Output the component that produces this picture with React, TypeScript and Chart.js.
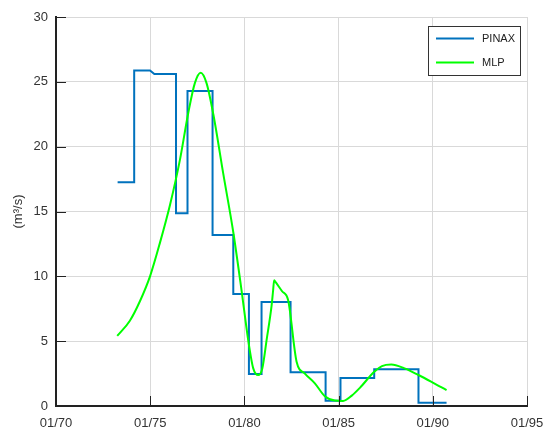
import React, { useEffect, useRef } from "react";
import { Chart, registerables } from "chart.js";

Chart.register(...registerables);

// PINAX series (step-like vertices): decimal years and flow (m3/s)
const pinaxYears = [
  1973.27, 1974.15, 1974.15, 1974.99, 1975.22, 1976.37, 1976.37, 1976.98, 1976.98,
  1978.31, 1978.31, 1979.41, 1979.41, 1980.24, 1980.24, 1980.91, 1980.91, 1982.45,
  1982.45, 1984.31, 1984.31, 1985.1, 1985.1, 1986.89, 1986.89, 1989.24, 1989.24, 1990.73,
];
const pinaxFlow = [
  17.25, 17.25, 25.88, 25.88, 25.6, 25.6, 14.86, 14.86, 24.3,
  24.3, 13.18, 13.18, 8.63, 8.63, 2.47, 2.47, 8.02, 8.02,
  2.6, 2.6, 0.41, 0.41, 2.16, 2.16, 2.83, 2.83, 0.26, 0.26,
];

// MLP series
const mlpYears = [
  1973.25, 1973.93, 1974.46, 1974.99, 1975.52, 1976.05, 1976.58, 1977.02, 1977.37,
  1977.68, 1977.99, 1978.35, 1978.88, 1979.41, 1979.85, 1980.2, 1980.47, 1980.73, 1980.95,
  1981.18, 1981.44, 1981.52, 1981.58, 1981.66, 1982.0, 1982.32, 1982.77, 1983.21, 1983.74,
  1984.27, 1984.8, 1985.24, 1985.7, 1986.13, 1986.89, 1987.3, 1987.8, 1988.5, 1989.24,
  1989.95, 1990.73,
];
const mlpFlow = [
  5.4, 6.6, 8.1, 10.0, 12.6, 15.5, 19.0, 22.6, 24.9,
  25.7, 24.9, 22.5, 17.9, 13.4, 8.9, 5.1, 2.9, 2.39, 2.9,
  5.1, 7.7, 8.85, 9.7, 9.55, 8.85, 8.17, 3.42, 2.5, 1.75,
  0.75, 0.42, 0.39, 0.8, 1.4, 2.64, 3.08, 3.2, 2.9, 2.39,
  1.85, 1.23,
];

const xTickValues = [1970, 1975, 1980, 1985, 1990, 1995];
const yTickValues = [0, 5, 10, 15, 20, 25, 30];
const seriesNames = ["PINAX", "MLP"];
const seriesColors = ["#0072BD", "#00ff00"];
const yAxisTitle = "(m\u00B3/s)";

const FONT = "'Liberation Sans', Arial, sans-serif";

const decorPlugin = {
  id: "decor",
  afterDraw(chart: any) {
    const ctx = chart.ctx;
    const area = chart.chartArea;
    const xs = chart.scales.x;
    const ys = chart.scales.y;
    ctx.save();
    // inward tick marks
    ctx.strokeStyle = "#222";
    ctx.lineWidth = 1;
    ctx.beginPath();
    yTickValues.forEach((v) => {
      if (v === 0) return;
      const py = Math.round(ys.getPixelForValue(v)) + 0.5;
      ctx.moveTo(area.left, py);
      ctx.lineTo(area.left + 10, py);
    });
    xTickValues.forEach((v) => {
      if (v === 1970) return;
      const px = Math.round(xs.getPixelForValue(v)) + 0.5;
      ctx.moveTo(px, area.bottom);
      ctx.lineTo(px, area.bottom - 10);
    });
    ctx.stroke();

    // y-axis title
    ctx.fillStyle = "#333";
    ctx.font = "13px " + FONT;
    ctx.textAlign = "center";
    ctx.textBaseline = "middle";
    ctx.translate(18, (area.top + area.bottom) / 2);
    ctx.rotate(-Math.PI / 2);
    ctx.fillText(yAxisTitle, 0, 0);
    ctx.setTransform(1, 0, 0, 1, 0, 0);

    // legend box in top-right corner of plot area
    const bx = area.right - 99;
    const by = area.top + 9;
    const bw = 92;
    const bh = 49;
    ctx.fillStyle = "#fff";
    ctx.fillRect(bx, by, bw, bh);
    ctx.strokeStyle = "#333";
    ctx.lineWidth = 1;
    ctx.strokeRect(bx + 0.5, by + 0.5, bw, bh);
    seriesNames.forEach((name, i) => {
      const ly = by + 12.5 + i * 24;
      ctx.strokeStyle = seriesColors[i];
      ctx.lineWidth = 2;
      ctx.beginPath();
      ctx.moveTo(bx + 8, ly);
      ctx.lineTo(bx + 46, ly);
      ctx.stroke();
      ctx.fillStyle = "#222";
      ctx.font = "11px " + FONT;
      ctx.textAlign = "left";
      ctx.textBaseline = "middle";
      ctx.fillText(name, bx + 54, ly + 0.5);
    });
    ctx.restore();
  },
};

export default function App() {
  const ref = useRef<HTMLCanvasElement | null>(null);

  useEffect(() => {
    if (!ref.current) return;
    const pinaxData = pinaxYears.map((x, i) => ({ x, y: pinaxFlow[i] }));
    const mlpData = mlpYears.map((x, i) => ({ x, y: mlpFlow[i] }));
    const chart = new Chart(ref.current, {
      type: "line",
      data: {
        datasets: [
          {
            label: seriesNames[0],
            data: pinaxData,
            borderColor: seriesColors[0],
            backgroundColor: seriesColors[0],
            borderWidth: 2,
            pointRadius: 0,
            tension: 0,
            fill: false,
            order: 1,
          },
          {
            label: seriesNames[1],
            data: mlpData,
            borderColor: seriesColors[1],
            backgroundColor: seriesColors[1],
            borderWidth: 2,
            pointRadius: 0,
            cubicInterpolationMode: "monotone",
            fill: false,
            order: 0,
          },
        ],
      },
      options: {
        responsive: false,
        animation: false,
        layout: { padding: { top: 17, right: 23, left: 0, bottom: 0 } },
        plugins: {
          legend: { display: false },
          tooltip: { enabled: false },
        },
        scales: {
          x: {
            type: "linear",
            min: 1970,
            max: 1995,
            afterFit(scale: any) {
              scale.height = 32;
              scale.paddingLeft = 0;
              scale.paddingRight = 0;
            },
            afterBuildTicks(scale: any) {
              scale.ticks = xTickValues.map((v) => ({ value: v }));
            },
            ticks: {
              callback: (v: any) => "01/" + String(Number(v) % 100).padStart(2, "0"),
              font: { size: 13, family: FONT },
              color: "#333",
              padding: 10,
              maxRotation: 0,
            },
            grid: { color: "#d9d9d9", lineWidth: 1, drawTicks: false },
            border: { display: true, color: "#222", width: 2 },
          },
          y: {
            type: "linear",
            min: 0,
            max: 30,
            afterFit(scale: any) {
              scale.width = 56;
              scale.paddingTop = 0;
              scale.paddingBottom = 0;
            },
            afterBuildTicks(scale: any) {
              scale.ticks = yTickValues.map((v) => ({ value: v }));
            },
            ticks: {
              font: { size: 13, family: FONT },
              color: "#333",
              padding: 8,
            },
            grid: { color: "#d9d9d9", lineWidth: 1, drawTicks: false },
            border: { display: true, color: "#222", width: 2 },
          },
        },
      },
      plugins: [decorPlugin],
    });
    return () => chart.destroy();
  }, []);

  return (
    <div style={{ position: "fixed", left: 0, top: 0, width: 550, height: 438, background: "#fff" }}>
      <canvas ref={ref} width={550} height={438} />
    </div>
  );
}
